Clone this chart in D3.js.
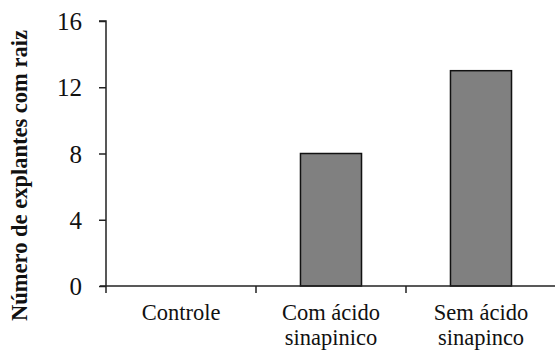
<!DOCTYPE html>
<html><head><meta charset="utf-8">
<script src="https://cdn.jsdelivr.net/npm/d3@7"></script>
<style>body{margin:0;background:#fff}svg{display:block}</style>
</head><body>
<script>
const categories = [["Controle"], ["Com ácido", "sinapinico"], ["Sem ácido", "sinapinco"]];
const values = [0, 8, 13];
const yTicks = [0, 4, 8, 12, 16];
const yTitle = "Número de explantes com raiz";
const FONT = "Liberation Serif";

const W = 555, H = 352;
const svg = d3.select("body").append("svg").attr("width", W).attr("height", H);
const keys = categories.map(c => c.join(" "));
const x = d3.scaleBand().domain(keys).range([106, 556]).paddingInner(0.593).paddingOuter(0.2965);
const y = d3.scaleLinear().domain([0, 16]).range([286, 21]);

// bars
svg.append("g").selectAll("rect").data(values).join("rect")
  .attr("x", (d, i) => x(keys[i]))
  .attr("y", d => y(d))
  .attr("width", x.bandwidth())
  .attr("height", d => y(0) - y(d))
  .attr("fill", "#808080")
  .attr("stroke", "#111")
  .attr("stroke-width", 1.5)
  .style("display", d => d > 0 ? null : "none");

// y axis
const ya = svg.append("g").attr("transform", "translate(106,0)")
  .call(d3.axisLeft(y).tickValues(yTicks).tickSize(7).tickPadding(17).tickFormat(d3.format("d")));
ya.attr("font-family", FONT);
ya.select(".domain").attr("stroke", "#222").attr("stroke-width", 1.5).attr("d", `M-7,${y(16)}H0V${y(0)}`);
ya.selectAll(".tick line").attr("stroke", "#222").attr("stroke-width", 1.5);
ya.selectAll(".tick text").attr("font-family", FONT).attr("font-size", 25).attr("fill", "#111").attr("dy", "0.34em");

// x axis
const step = x.step();
const bounds = d3.range(keys.length + 1).map(i => x.range()[0] + i * step);
const xa = svg.append("g");
xa.append("line").attr("x1", 100).attr("x2", 556).attr("y1", y(0)).attr("y2", y(0))
  .attr("stroke", "#222").attr("stroke-width", 1.5);
xa.selectAll("line.t").data(bounds).join("line").attr("class", "t")
  .attr("x1", d => d).attr("x2", d => d).attr("y1", y(0)).attr("y2", y(0) + 7)
  .attr("stroke", "#222").attr("stroke-width", 1.5);
xa.selectAll("text").data(categories).join("text")
  .attr("text-anchor", "middle")
  .attr("font-family", FONT)
  .attr("fill", "#111")
  .attr("font-size", 22.5)
  .attr("transform", (d, i) => `translate(${x(keys[i]) + x.bandwidth() / 2},320)`)
  .each(function(d) {
    d3.select(this).selectAll("tspan").data(d).join("tspan")
      .attr("x", 0).attr("y", (t, j) => j * 25).text(t => t);
  });

// y title
svg.append("text").attr("transform", "translate(27,175.5) rotate(-90)")
  .attr("text-anchor", "middle").attr("font-weight", "bold").attr("font-size", 22.5)
  .attr("font-family", FONT).attr("fill", "#111")
  .text(yTitle);
</script>
</body></html>
